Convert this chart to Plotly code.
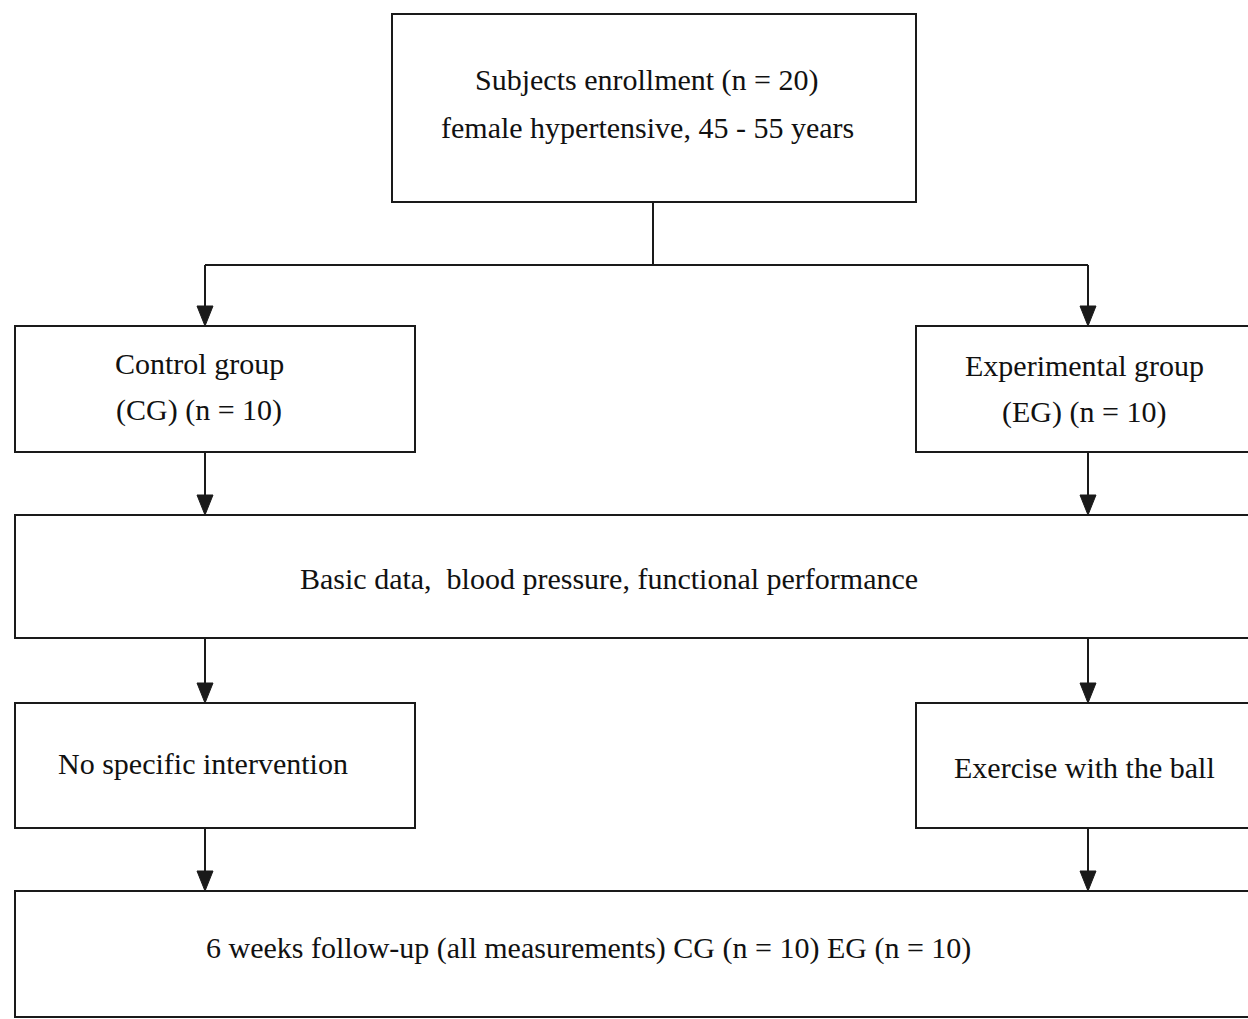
import plotly.graph_objects as go

W, H = 1248, 1019

# Boxes: (x0, y0, x1, y1) in pixel coordinates (y downward)
box_names = ["enroll", "cg", "eg", "basic", "noint", "ball", "follow"]
box_x0 = [392, 15, 916, 15, 15, 916, 15]
box_y0 = [14, 326, 326, 515, 703, 703, 891]
box_x1 = [916, 415, 1260, 1260, 415, 1260, 1260]
box_y1 = [202, 452, 452, 638, 828, 828, 1017]

# Text lines and their centre positions
labels = [
    "Subjects enrollment (n = 20)",
    "female hypertensive, 45 - 55 years",
    "Control group",
    "(CG) (n = 10)",
    "Experimental group",
    "(EG) (n = 10)",
    "Basic data,  blood pressure, functional performance",
    "No specific intervention",
    "Exercise with the ball",
    "6 weeks follow-up (all measurements) CG (n = 10) EG (n = 10)",
]
label_x = [647, 647, 199, 199, 1084, 1084, 609, 203, 1084, 588]
label_y = [80, 127, 363, 410, 365, 412, 578, 763, 767, 948]

# Arrows: (x, y_start, y_end)
arrow_x = [205, 1088, 205, 1088, 205, 1088, 205, 1088]
arrow_y0 = [265, 265, 452, 452, 638, 638, 828, 828]
arrow_y1 = [326, 326, 515, 515, 703, 703, 891, 891]

# Connector lines
split_y = 265
stem_x = 653

LINE = "#1a1a1a"
fig = go.Figure()

shapes = []
for x0, y0, x1, y1 in zip(box_x0, box_y0, box_x1, box_y1):
    shapes.append(dict(type="rect", xref="x", yref="y", x0=x0, y0=y0, x1=x1, y1=y1,
                       line=dict(color=LINE, width=2), fillcolor="rgba(0,0,0,0)"))
shapes.append(dict(type="line", xref="x", yref="y", x0=stem_x, x1=stem_x,
                   y0=box_y1[0], y1=split_y, line=dict(color=LINE, width=2)))
shapes.append(dict(type="line", xref="x", yref="y", x0=arrow_x[0], x1=arrow_x[1],
                   y0=split_y, y1=split_y, line=dict(color=LINE, width=2)))

for x, y0, y1 in zip(arrow_x, arrow_y0, arrow_y1):
    shapes.append(dict(type="line", xref="x", yref="y", x0=x, x1=x, y0=y0, y1=y1 - 10,
                       line=dict(color=LINE, width=2)))
    hw, hh = 8, 20
    shapes.append(dict(type="path", xref="x", yref="y",
                       path=f"M {x-hw},{y1-hh} L {x+hw},{y1-hh} L {x},{y1} Z",
                       fillcolor=LINE, line=dict(color=LINE, width=1)))

annotations = []
for t, x, y in zip(labels, label_x, label_y):
    annotations.append(dict(text=t, x=x, y=y, xref="x", yref="y", showarrow=False,
                            xanchor="center", yanchor="middle", align="center",
                            font=dict(family="Liberation Serif", size=30, color="#111111")))

fig.update_layout(
    width=W, height=H,
    margin=dict(l=0, r=0, t=0, b=0),
    paper_bgcolor="white", plot_bgcolor="white",
    xaxis=dict(range=[0, W], visible=False, fixedrange=True),
    yaxis=dict(range=[H, 0], visible=False, fixedrange=True),
    shapes=shapes, annotations=annotations, showlegend=False,
)
fig.add_trace(go.Scatter(x=[0], y=[0], mode="markers", marker=dict(opacity=0), hoverinfo="skip"))

fig.write_html("out.html", config={"displayModeBar": False},
               post_script="document.body.style.margin='0';")
